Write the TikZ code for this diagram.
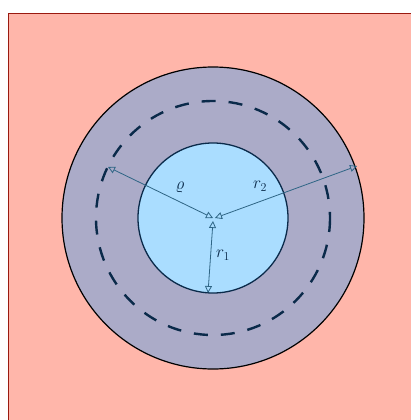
\documentclass[tikz,border=0pt]{standalone}
\usetikzlibrary{arrows.meta}
\definecolor{salmon}{HTML}{FFB6AA}
\definecolor{rectborder}{HTML}{9A1A10}
\definecolor{annulus}{HTML}{ABABC8}
\definecolor{innerfill}{HTML}{AADDFF}
\definecolor{navy}{HTML}{0A2A4A}
\definecolor{arrowcol}{HTML}{2E6585}
\tikzset{
  radarrow/.style={arrowcol, line width=0.8pt, {Triangle[open,length=7pt,width=7pt]}-{Triangle[open,length=7pt,width=7pt]}},
  lbl/.style={text=navy, font=\fontsize{17}{20}\selectfont, inner sep=0pt}
}
\begin{document}
\begin{tikzpicture}[x=1pt,y=-1pt]
\useasboundingbox (0,0) rectangle (411,420);
\fill[salmon] (8.5,13.5) rectangle (430,440);
\draw[rectborder, line width=1pt] (8.5,440) -- (8.5,13.5) -- (430,13.5);
\coordinate (c) at (213,218);
\draw[black, line width=1.2pt, fill=annulus] (c) circle[radius=151];
\draw[navy, line width=2.4pt, dash pattern=on 14pt off 13pt] (c) circle[radius=117];
\draw[navy, line width=1.3pt, fill=innerfill] (c) circle[radius=75];
\coordinate (cl) at (213,218);
\coordinate (cr) at (215,218);
\coordinate (cb) at (213,221);
\coordinate (pr) at (108,167);
\coordinate (pt2) at (357,166);
\coordinate (pt1) at (208,293);
\draw[radarrow] (pr) -- (cl);
\draw[radarrow] (pt2) -- (cr);
\draw[radarrow] (pt1) -- (cb);
\node[lbl] (lrho) at (180,187) {$\varrho$};
\node[lbl] (lr2) at (260,186) {$r_2$};
\node[lbl] (lr1) at (223,255) {$r_1$};
\end{tikzpicture}
\end{document}
